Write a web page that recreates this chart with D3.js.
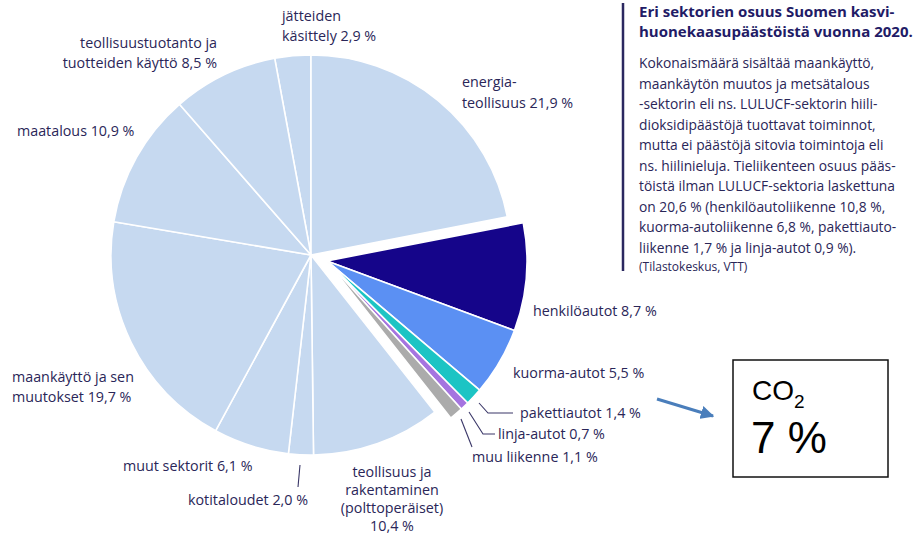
<!DOCTYPE html>
<html><head><meta charset="utf-8">
<script src="https://cdn.jsdelivr.net/npm/d3@7"></script>
<style>
html,body{margin:0;padding:0;background:#fff;}
svg{display:block;}
</style></head>
<body>
<svg id="chart" width="919" height="534"></svg>
<script>
// ---- data ----
const categories = [
  "jätteiden käsittely", "energiateollisuus", "henkilöautot", "kuorma-autot",
  "pakettiautot", "linja-autot", "muu liikenne", "teollisuus ja rakentaminen",
  "kotitaloudet", "muut sektorit", "maankäyttö ja sen muutokset", "maatalous",
  "teollisuustuotanto ja tuotteiden käyttö"
];
const values = [2.9, 21.9, 8.7, 5.5, 1.4, 0.7, 1.1, 10.4, 2.0, 6.1, 19.7, 10.9, 8.5];
const transport = ["henkilöautot", "kuorma-autot", "pakettiautot", "linja-autot", "muu liikenne"];
const labelTexts = [
  ["jätteiden", "käsittely 2,9 %"],
  ["energia-", "teollisuus 21,9 %"],
  ["henkilöautot 8,7 %"],
  ["kuorma-autot 5,5 %"],
  ["pakettiautot 1,4 %"],
  ["linja-autot 0,7 %"],
  ["muu liikenne 1,1 %"],
  ["teollisuus ja", "rakentaminen", "(polttoperäiset)", "10,4 %"],
  ["kotitaloudet 2,0 %"],
  ["muut sektorit 6,1 %"],
  ["maankäyttö ja sen", "muutokset 19,7 %"],
  ["maatalous 10,9 %"],
  ["teollisuustuotanto ja", "tuotteiden käyttö 8,5 %"]
];
const titleLines = ["Eri sektorien osuus Suomen kasvi-", "huonekaasupäästöistä vuonna 2020."];
const noteLines = [
  "Kokonaismäärä sisältää maankäyttö,",
  "maankäytön muutos ja metsätalous",
  "-sektorin eli ns. LULUCF-sektorin hiili-",
  "dioksidipäästöjä tuottavat toiminnot,",
  "mutta ei päästöjä sitovia toimintoja eli",
  "ns. hiilinieluja. Tieliikenteen osuus pääs-",
  "töistä ilman LULUCF-sektoria laskettuna",
  "on 20,6 % (henkilöautoliikenne 10,8 %,",
  "kuorma-autoliikenne 6,8 %, pakettiauto-",
  "liikenne 1,7 % ja linja-autot 0,9 %)."
];
const sourceText = "(Tilastokeskus, VTT)";
const boxGas = "CO";
const boxSub = "2";
const boxValue = "7 %";

// ---- layout / style (not data) ----
const colorMap = {
  "henkilöautot": "#15058a",
  "kuorma-autot": "#5b90f3",
  "pakettiautot": "#1cc4c4",
  "linja-autot": "#a574e0",
  "muu liikenne": "#ababab"
};
const baseColor = "#c6d9f0";
const textColor = "#2a2658";
const labelLayout = [
  {x:282, y:21, a:"start", lh:20},
  {x:462, y:87, a:"start", lh:21},
  {x:533, y:316, a:"start", lh:20},
  {x:513, y:378, a:"start", lh:20},
  {x:520, y:418, a:"start", lh:20},
  {x:498, y:439, a:"start", lh:20},
  {x:472, y:462, a:"start", lh:20},
  {x:392, y:477, a:"middle", lh:18},
  {x:188, y:505, a:"start", lh:20},
  {x:123, y:471, a:"start", lh:20},
  {x:12, y:382, a:"start", lh:20},
  {x:17, y:136, a:"start", lh:20},
  {x:217, y:48, a:"end", lh:20}
];
const leaders = [
  [[479,403],[488,413],[513,413]],
  [[469,412],[483,434],[495,434]],
  [[461,419],[472,447]],
  [[300,465],[298,487]]
];

const svg = d3.select("#chart");
const cx = 311, cy = 255, R = 200, explode = 17;
const total = d3.sum(values);
const start = -2 * Math.PI * values[0] / total;

const pie = d3.pie().sort(null).startAngle(start).endAngle(start + 2 * Math.PI);
const arcs = pie(values);
arcs.forEach((a, i) => a.cat = categories[i]);
const arc = d3.arc().innerRadius(0).outerRadius(R);

const tArcs = arcs.filter(a => transport.includes(a.cat));
const gMid = (tArcs[0].startAngle + tArcs[tArcs.length - 1].endAngle) / 2;
const dx = explode * Math.sin(gMid), dy = -explode * Math.cos(gMid);

const gPie = svg.append("g").attr("transform", `translate(${cx},${cy})`);
gPie.selectAll("path.slice").data(arcs).join("path")
  .attr("class", "slice")
  .attr("d", arc)
  .attr("transform", d => transport.includes(d.cat) ? `translate(${dx},${dy})` : null)
  .attr("fill", d => colorMap[d.cat] || baseColor)
  .attr("stroke", "#fff")
  .attr("stroke-width", 1.6)
  .attr("stroke-linejoin", "round");

// labels
const gLab = svg.append("g").attr("font-family", "'Open Sans', sans-serif")
  .attr("font-size", 14.3).attr("fill", textColor);
labelTexts.forEach((lines, i) => {
  const L = labelLayout[i];
  const t = gLab.append("text").attr("text-anchor", L.a);
  lines.forEach((s, j) => t.append("tspan").attr("x", L.x).attr("y", L.y + j * L.lh).text(s));
});
svg.append("g").selectAll("polyline").data(leaders).join("polyline")
  .attr("points", d => d.map(p => p.join(",")).join(" "))
  .attr("fill", "none").attr("stroke", "#3a3768").attr("stroke-width", 1.1);

// right note block
svg.append("line").attr("x1", 623).attr("x2", 623).attr("y1", 3).attr("y2", 271)
  .attr("stroke", "#2b2860").attr("stroke-width", 2.5);
const gT = svg.append("g").attr("font-family", "'Open Sans', sans-serif").attr("fill", "#221b66");
titleLines.forEach((s, j) => gT.append("text").attr("x", 639).attr("y", 17 + j * 20)
  .attr("font-size", 15).attr("font-weight", "bold").text(s));
noteLines.forEach((s, j) => gT.append("text").attr("x", 639).attr("y", 68 + j * 20.5)
  .attr("font-size", 13.8).attr("fill", textColor).text(s));
gT.append("text").attr("x", 639).attr("y", 271).attr("font-size", 12).attr("fill", textColor).text(sourceText);

// arrow
const defs = svg.append("defs");
defs.append("marker").attr("id", "ah").attr("viewBox", "0 0 10 10").attr("refX", 9).attr("refY", 5)
  .attr("markerWidth", 4.5).attr("markerHeight", 4.5).attr("orient", "auto")
  .append("path").attr("d", "M0,0 L10,5 L0,10 z").attr("fill", "#4a7ebb");
svg.append("line").attr("x1", 657).attr("y1", 399).attr("x2", 713).attr("y2", 416)
  .attr("stroke", "#4a7ebb").attr("stroke-width", 3).attr("marker-end", "url(#ah)");

// CO2 box
svg.append("rect").attr("x", 733).attr("y", 360).attr("width", 155).attr("height", 117)
  .attr("fill", "#fff").attr("stroke", "#111").attr("stroke-width", 1.5);
const co = svg.append("text").attr("x", 752).attr("y", 400)
  .attr("font-family", "'Liberation Sans', Arial, sans-serif").attr("font-size", 28).attr("fill", "#000");
co.append("tspan").text(boxGas);
co.append("tspan").attr("font-size", 19).attr("dy", 8).text(boxSub);
svg.append("text").attr("x", 751).attr("y", 453)
  .attr("font-family", "'Liberation Sans', Arial, sans-serif").attr("font-size", 44).attr("fill", "#000").text(boxValue);
</script>
</body></html>
